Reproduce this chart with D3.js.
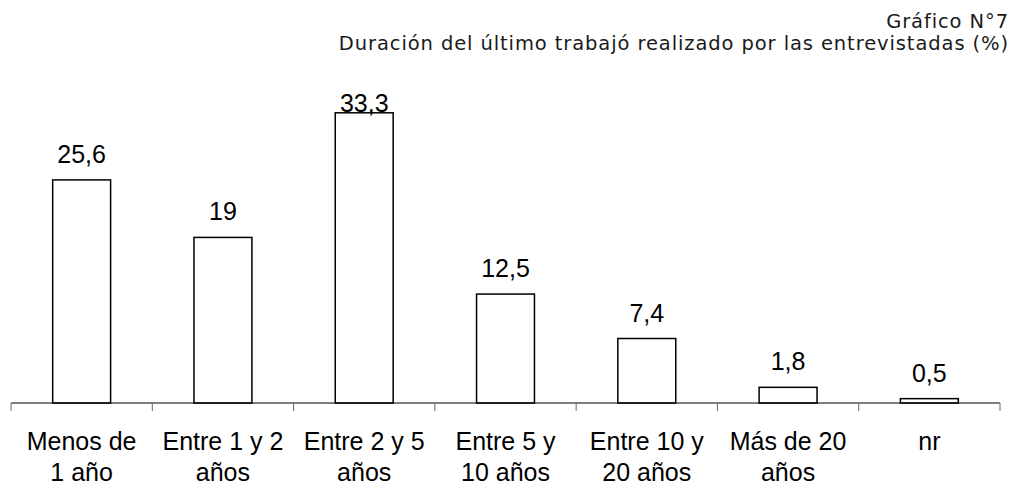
<!DOCTYPE html>
<html lang="es">
<head>
    <meta charset="utf-8">
    <script src="https://d3js.org/d3.v7.min.js"></script>
    <style>
        body { margin: 0; background: #fff; }
    </style>
</head>
<body>
    <div id="chart"></div>
    <script>
        // chart data
        var categories = ["Menos de|1 año", "Entre 1 y 2|años", "Entre 2 y 5|años", "Entre 5 y|10 años", "Entre 10 y|20 años", "Más de 20|años", "nr"]
        var values = [25.6, 19, 33.3, 12.5, 7.4, 1.8, 0.5]
        var titleLines = ["Gráfico N°7", "Duración del último trabajó realizado por las entrevistadas (%)"]

        var width = 1019
        var height = 488

        var svg = d3.select("#chart")
            .append("svg")
            .attr("width", width)
            .attr("height", height)

        // band for each category, ticks sit on band edges
        var x = d3.scaleBand()
            .domain(categories)
            .range([11, 1000])
            .padding(0)

        var barWidth = x.bandwidth() * 0.41

        var y = d3.scaleLinear()
            .domain([0, 35])
            .range([403, 98])

        // title, right aligned
        svg.selectAll(".title")
            .data(titleLines)
            .enter()
            .append("text")
            .attr("class", "title")
            .attr("x", 1009)
            .attr("y", function(d, i) { return 28 + i * 22 })
            .attr("text-anchor", "end")
            .style("font-family", "DejaVu Sans, Verdana, sans-serif")
            .style("font-size", "19.5px")
            .style("letter-spacing", "0.9px")
            .style("fill", "#1a1a1a")
            .text(function(d) { return d })

        // bars
        svg.selectAll(".bar")
            .data(values)
            .enter()
            .append("rect")
            .attr("class", "bar")
            .attr("x", function(d, i) { return x(categories[i]) + x.bandwidth() / 2 - barWidth / 2 })
            .attr("y", function(d) { return y(d) })
            .attr("width", barWidth)
            .attr("height", function(d) { return y(0) - y(d) })
            .attr("fill", "#fff")
            .attr("stroke", "#000")
            .attr("stroke-width", 1.5)

        // value labels (kept inside the plot area at the top)
        svg.selectAll(".val")
            .data(values)
            .enter()
            .append("text")
            .attr("class", "val")
            .attr("x", function(d, i) { return x(categories[i]) + x.bandwidth() / 2 })
            .attr("y", function(d) { return Math.max(y(d) - 17, 112) })
            .attr("text-anchor", "middle")
            .style("font-family", "Liberation Sans, Arial, sans-serif")
            .style("font-size", "25px")
            .style("fill", "#000")
            .text(function(d) { return String(d).replace(".", ",") })

        // axis line
        svg.append("line")
            .attr("x1", x.range()[0])
            .attr("x2", x.range()[1])
            .attr("y1", y(0))
            .attr("y2", y(0))
            .attr("stroke", "#000")
            .attr("stroke-width", 1.2)

        // ticks on category boundaries
        var tickPos = categories.map(function(c) { return x(c) }).concat([x.range()[1]])
        svg.selectAll(".tick")
            .data(tickPos)
            .enter()
            .append("line")
            .attr("class", "tick")
            .attr("x1", function(d) { return d })
            .attr("x2", function(d) { return d })
            .attr("y1", y(0))
            .attr("y2", y(0) + 8)
            .attr("stroke", "#666")
            .attr("stroke-width", 1)

        // category labels, two lines
        var labels = svg.selectAll(".cat")
            .data(categories)
            .enter()
            .append("text")
            .attr("class", "cat")
            .attr("text-anchor", "middle")
            .style("font-family", "Liberation Sans, Arial, sans-serif")
            .style("font-size", "25px")
            .style("fill", "#000")

        labels.selectAll("tspan")
            .data(function(d) { return d.split("|").map(function(t) { return { t: t, c: d } }) })
            .enter()
            .append("tspan")
            .attr("x", function(d) { return x(d.c) + x.bandwidth() / 2 })
            .attr("y", function(d, i) { return 450 + i * 31 })
            .text(function(d) { return d.t })
    </script>
</body>
</html>
